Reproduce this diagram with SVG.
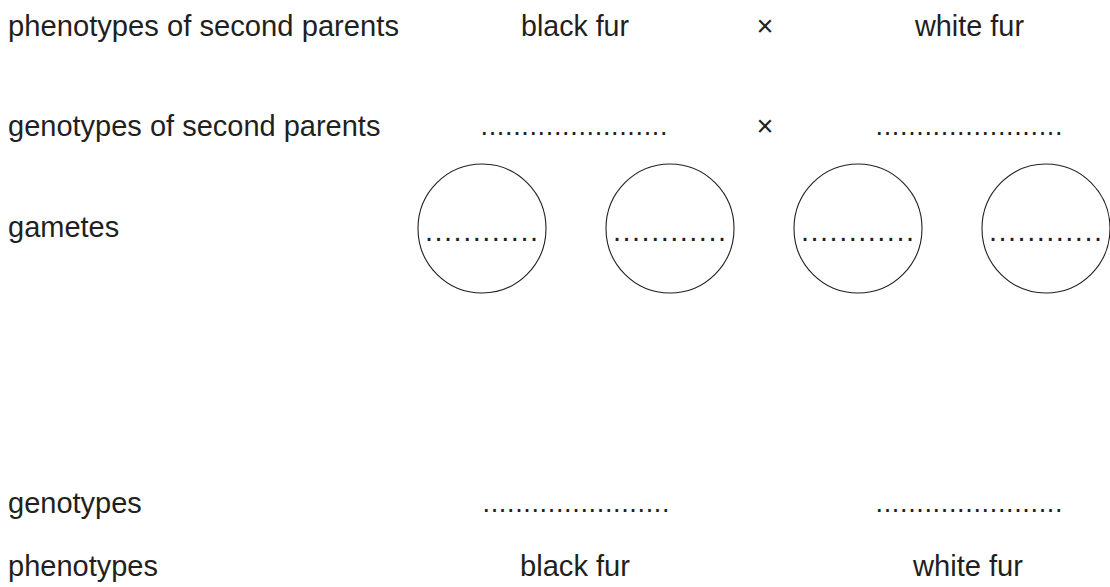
<svg xmlns="http://www.w3.org/2000/svg" width="1110" height="587" viewBox="0 0 1110 587">
<style>
text{font-family:"Liberation Sans",Arial,sans-serif;font-size:29px;fill:#231f20}
.dots{font-size:27px}
.gd{font-size:29px}
.x{text-anchor:middle}
.g ellipse{fill:none;stroke:#231f20;stroke-width:1.1}
</style>
<rect width="1110" height="587" fill="#fff"/>
<g id="row-phenotypes-parents">
<text x="8" y="36" textLength="391" lengthAdjust="spacingAndGlyphs">phenotypes of second parents</text>
<text x="521" y="36" textLength="108" lengthAdjust="spacingAndGlyphs">black fur</text>
<text class="x" x="765" y="36">×</text>
<text x="915" y="36" textLength="109" lengthAdjust="spacingAndGlyphs">white fur</text>
</g>
<g id="row-genotypes-parents">
<text x="8" y="136">genotypes of second parents</text>
<text class="dots" x="480.5" y="135" textLength="187" lengthAdjust="spacing">.......................</text>
<text class="x" x="765" y="136">×</text>
<text class="dots" x="875.5" y="135" textLength="187" lengthAdjust="spacing">.......................</text>
</g>
<g id="row-gametes">
<text x="8" y="237">gametes</text>
</g>
<g id="gamete1" class="g"><ellipse cx="482" cy="228.5" rx="64" ry="64.5"/><text class="gd" x="425" y="241" textLength="113" lengthAdjust="spacing">............</text></g>
<g id="gamete2" class="g"><ellipse cx="670" cy="228.5" rx="64" ry="64.5"/><text class="gd" x="613" y="241" textLength="113" lengthAdjust="spacing">............</text></g>
<g id="gamete3" class="g"><ellipse cx="858" cy="228.5" rx="64" ry="64.5"/><text class="gd" x="801" y="241" textLength="113" lengthAdjust="spacing">............</text></g>
<g id="gamete4" class="g"><ellipse cx="1046" cy="228.5" rx="64" ry="64.5"/><text class="gd" x="989" y="241" textLength="113" lengthAdjust="spacing">............</text></g>
<g id="row-genotypes">
<text x="8" y="513">genotypes</text>
<text class="dots" x="482.5" y="512" textLength="187" lengthAdjust="spacing">.......................</text>
<text class="dots" x="875.5" y="512" textLength="187" lengthAdjust="spacing">.......................</text>
</g>
<g id="row-phenotypes">
<text x="8" y="576">phenotypes</text>
<text x="520" y="576" textLength="110" lengthAdjust="spacingAndGlyphs">black fur</text>
<text x="913" y="576" textLength="110" lengthAdjust="spacingAndGlyphs">white fur</text>
</g>
</svg>
